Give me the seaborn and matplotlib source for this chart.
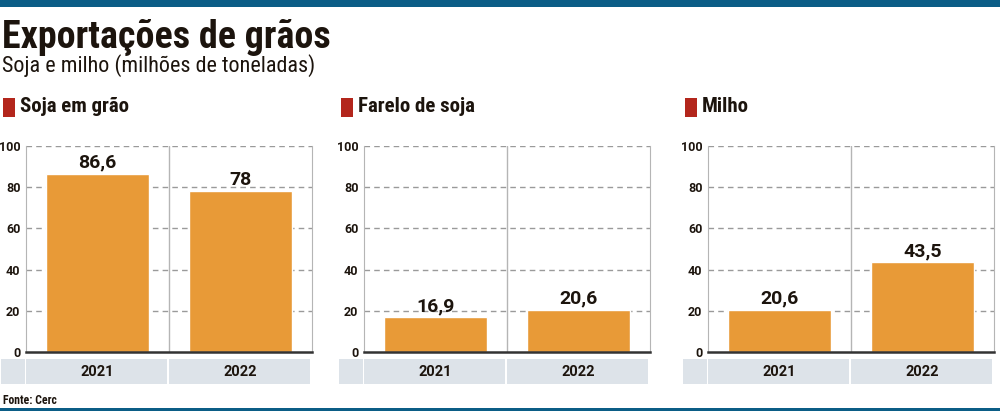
import pandas as pd
import seaborn as sns
import matplotlib.pyplot as plt
from matplotlib import font_manager
from matplotlib.patches import Rectangle
import matplotlib.transforms as mtransforms

sns.set_style("white")

# pick a condensed family if one is installed
names = {f.name for f in font_manager.fontManager.ttflist}
NARROW = next((n for n in ["Liberation Sans Narrow", "Roboto Condensed",
                           "DejaVu Sans Condensed", "Open Sans Condensed"]
               if n in names), "Roboto")
plt.rcParams["font.family"] = [NARROW, "DejaVu Sans"]
WIDE = ["Roboto", "DejaVu Sans"]

YEARS = ["2021", "2022"]
PANELS = ["Soja em grão", "Farelo de soja", "Milho"]
SOJA = [86.6, 78.0]
FARELO = [16.9, 20.6]
MILHO = [20.6, 43.5]
LABELS = [["86,6", "78"], ["16,9", "20,6"], ["20,6", "43,5"]]
YTICKS = [0, 20, 40, 60, 80, 100]

BAR = "#e89a37"
STRIP = "#dde3e9"
DARK = "#1c140d"
BLUE = "#0b5d86"
RED = "#b3261c"

W, H = 1000, 411
fig = plt.figure(figsize=(W / 100, H / 100), dpi=100)

def fx(px):
    return px / W

def fy(py):
    return 1 - py / H

# header decoration
fig.add_artist(Rectangle((0, fy(7)), 1, 7 / H, transform=fig.transFigure,
                         color=BLUE, lw=0))
fig.add_artist(Rectangle((0, 0), 1, 3 / H, transform=fig.transFigure,
                         color=BLUE, lw=0))
title = fig.text(fx(2), fy(37), "Exportações de grãos", fontsize=25,
                 fontweight="black", color=DARK, va="center", ha="left")
sub = fig.text(fx(2), fy(66), "Soja e milho (milhões de toneladas)", fontsize=16,
               color=DARK, va="center", ha="left")
fig.text(fx(3), fy(400), "Fonte: Cerc", fontsize=8.5, fontweight="bold",
         color=DARK, va="center", ha="left")

# squeeze title / subtitle to the reference widths
r = fig.canvas.get_renderer()
for t, target in [(title, 328), (sub, 313)]:
    w = t.get_window_extent(r).width
    t.set_fontsize(t.get_fontsize() * target / w)

ax_left = [26, 364, 708]
ax_w, ax_top, ax_bot = 286, 146, 352
values = [SOJA, FARELO, MILHO]

for i, name in enumerate(PANELS):
    left = ax_left[i]
    ax = fig.add_axes([fx(left), fy(ax_bot), fx(ax_w), (ax_bot - ax_top) / H])
    df = pd.DataFrame({"ano": YEARS, "valor": values[i]})
    sns.barplot(data=df, x="ano", y="valor", color=BAR, saturation=1,
                width=0.72, ax=ax, zorder=3)
    ax.set_ylim(0, 100)
    ax.set_xlim(-0.5, 1.5)
    ax.set_yticks(YTICKS)
    ax.set_yticklabels([str(t) for t in YTICKS], fontsize=9, fontweight="bold",
                       color=DARK, family=WIDE)
    ax.tick_params(axis="y", length=0, pad=4)
    ax.set_xticks([])
    ax.set_xlabel("")
    ax.set_ylabel("")
    for t in YTICKS[1:]:
        ax.axhline(t, color="#9a9a9a", lw=1, ls=(0, (4, 3)), zorder=1)
    ax.axvline(0.5, color="#b5b5b5", lw=1, zorder=1)
    ax.spines["top"].set_visible(False)
    ax.spines["left"].set_color("#b5b5b5")
    ax.spines["right"].set_color("#b5b5b5")
    ax.spines["bottom"].set_color("#333333")
    ax.spines["bottom"].set_linewidth(1.8)
    ax.spines["bottom"].set_zorder(5)

    for j, v in enumerate(values[i]):
        ax.text(j, v + 1, LABELS[i][j], ha="center", va="bottom", fontsize=14,
                fontweight="bold", color=DARK, family=WIDE)

    # year strip below the axis
    trans = mtransforms.blended_transform_factory(ax.transData, ax.transAxes)
    y0 = -(384 - ax_bot) / (ax_bot - ax_top)
    hgt = (384 - 359) / (ax_bot - ax_top)
    gap = 2 / ax_w * 2
    ax.add_patch(Rectangle((-0.5 - 25 / ax_w * 2, y0), 24 / ax_w * 2, hgt,
                           transform=trans, color=STRIP, lw=0, clip_on=False))
    for j, yr in enumerate(YEARS):
        ax.add_patch(Rectangle((j - 0.5, y0), 1 - gap, hgt, transform=trans,
                               color=STRIP, lw=0, clip_on=False))
        ax.text(j, y0 + hgt / 2, yr, transform=trans, ha="center", va="center",
                fontsize=10.5, fontweight="bold", color=DARK, family=WIDE)

    # panel heading
    hx = left - 23
    fig.add_artist(Rectangle((fx(hx), fy(117)), fx(12), 19 / H,
                             transform=fig.transFigure, color=RED, lw=0))
    fig.text(fx(hx + 17), fy(107), name, fontsize=15, fontweight="bold",
             color=DARK, va="center", ha="left")

fig.savefig("out.png", dpi=100)
